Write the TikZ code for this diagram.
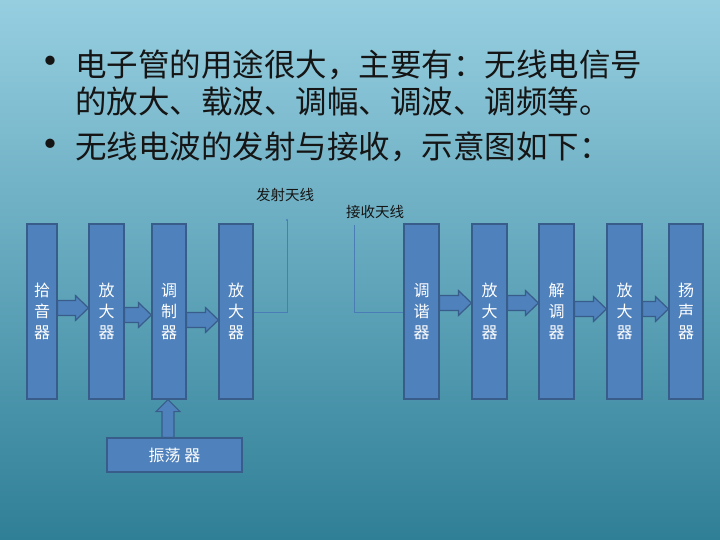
\documentclass[tikz,border=0pt]{standalone}
\usepackage{fontspec}
\newfontfamily\cjk{Noto Sans CJK SC}
\usetikzlibrary{calc}
\definecolor{boxfill}{HTML}{4F81BD}
\definecolor{boxline}{HTML}{385D8A}
\definecolor{bgtop}{HTML}{96CEE0}
\definecolor{bgmid}{HTML}{5CB0C9}
\definecolor{bgbot}{HTML}{2F7F97}
\definecolor{antline}{HTML}{4A7DB5}
\definecolor{txt}{HTML}{151515}
\newcommand\harrow[3]{% from node #1 to node #2 at level coordinate #3
  \path (#1.east |- #3) coordinate (hs) (#2.west |- #3) coordinate (he);
  \filldraw[arrowsty] let \p1=(hs), \p2=(he) in
    (\x1,{\y1+7.5pt}) -- ({\x2-13pt},{\y1+7.5pt}) -- ({\x2-13pt},{\y1+12.5pt}) -- (\x2,\y1)
    -- ({\x2-13pt},{\y1-12.5pt}) -- ({\x2-13pt},{\y1-7.5pt}) -- (\x1,{\y1-7.5pt}) -- cycle;
}
\begin{document}
\begin{tikzpicture}[x=1pt,y=-1pt,
  blk/.style={draw=boxline, line width=1.2pt, fill=boxfill, text=white,
    font=\cjk\fontsize{16}{21}\selectfont, align=center, inner sep=0pt},
  tall/.style={blk, minimum height=175pt, minimum width=34pt},
  arrowsty/.style={fill=boxfill, draw=boxline, line width=1.2pt, line join=miter},
  ant/.style={draw=antline, line width=0.8pt},
  lbl/.style={text=txt, font=\cjk\fontsize{14.5}{16}\selectfont, inner sep=0pt},
  head/.style={text=txt, font=\cjk\fontsize{31.5}{31.5}\selectfont, inner sep=0pt, anchor=west},
  bul/.style={text=txt, font=\cjk\fontsize{44}{44}\selectfont, inner sep=0pt}]
\shade[top color=bgtop, middle color=bgmid, bottom color=bgbot] (0,0) rectangle (720,540);
\useasboundingbox (0,0) rectangle (720,540);

% header text
\node[bul] (bu1) at (50,67) {•};
\node[head] (l1) at (75,65) {电子管的用途很大，主要有：无线电信号};
\node[head] (l2) at (75,101) {的放大、载波、调幅、调波、调频等。};
\node[bul] (bu2) at (50,150) {•};
\node[head] (l3) at (75,147) {无线电波的发射与接收，示意图如下：};

% transmitter
\node[tall, minimum width=30pt] (b1) at (42,311.5) {拾\\音\\器};
\node[tall, minimum width=35pt] (b2) at (106.5,311.5) {放\\大\\器};
\node[tall] (b3) at (169,311.5) {调\\制\\器};
\node[tall] (b4) at (236,311.5) {放\\大\\器};
\node[blk, minimum width=135pt, minimum height=34pt] (osc) at (174.5,455) {振荡 器};

% receiver
\node[tall, minimum width=35pt] (r1) at (421.5,311.5) {调\\谐\\器};
\node[tall, minimum width=35pt] (r2) at (489.5,311.5) {放\\大\\器};
\node[tall, minimum width=35pt] (r3) at (556.5,311.5) {解\\调\\器};
\node[tall, minimum width=35pt] (r4) at (624.5,311.5) {放\\大\\器};
\node[tall] (r5) at (686,311.5) {扬\\声\\器};

% block arrows
\coordinate (y1) at (0,308);
\coordinate (y2) at (0,315);
\coordinate (y3) at (0,320);
\coordinate (y4) at (0,303);
\coordinate (y5) at (0,309);
\harrow{b1}{b2}{y1}
\harrow{b2}{b3}{y2}
\harrow{b3}{b4}{y3}
\harrow{r1}{r2}{y4}
\harrow{r2}{r3}{y4}
\harrow{r3}{r4}{y5}
\harrow{r4}{r5}{y5}

% vertical arrow oscillator -> modulator
\coordinate (vx) at (168,0);
\path (osc.north -| vx) coordinate (vs) (b3.south -| vx) coordinate (ve);
\filldraw[arrowsty] let \p1=(vs), \p2=(ve) in
  ({\x1-6pt},\y1) -- ({\x1-6pt},{\y2-12pt}) -- ({\x1-12pt},{\y2-12pt}) -- (\x1,\y2)
  -- ({\x1+12pt},{\y2-12pt}) -- ({\x1+6pt},{\y2-12pt}) -- ({\x1+6pt},\y1) -- cycle;

% antennas
\coordinate (txtop) at (287,220);
\coordinate (txlvl) at (0,312);
\draw[ant] (b4.east |- txlvl) -| (txtop);
\fill[antline] (txtop) circle (1.2pt);
\node[lbl] (txl) at (285,195) {发射天线};

\coordinate (rxtop) at (354,225);
\coordinate (rxlvl) at (0,312);
\draw[ant] (rxtop) |- (r1.west |- rxlvl);
\node[lbl] (rxl) at (375,212) {接收天线};
\end{tikzpicture}
\end{document}
